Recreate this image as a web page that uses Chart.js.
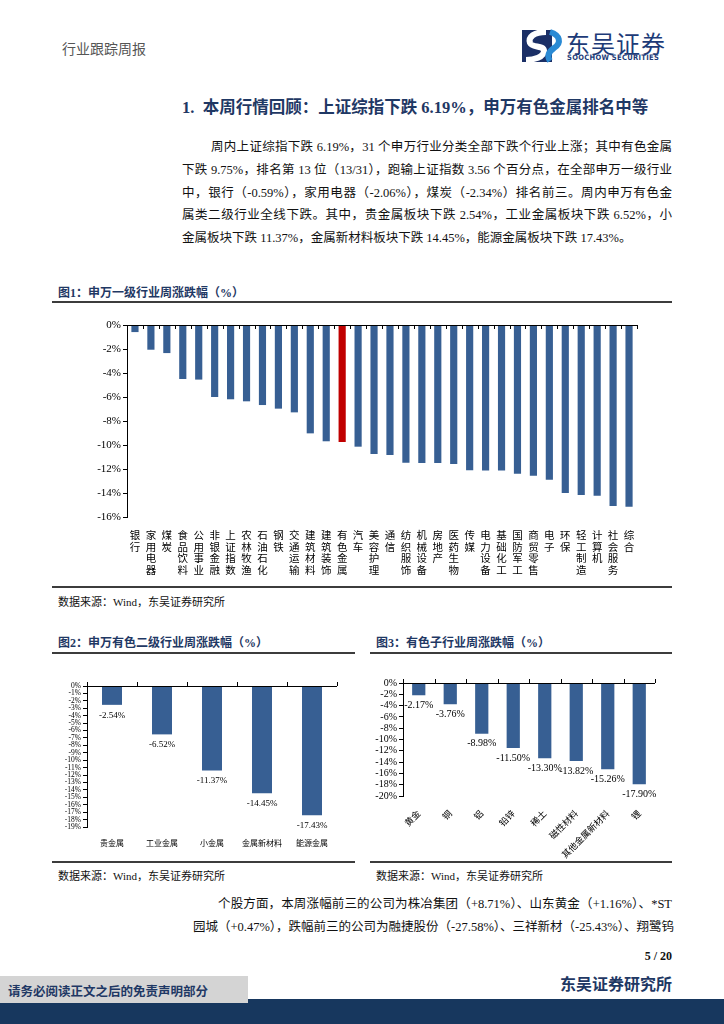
<!DOCTYPE html>
<html><head><meta charset="utf-8">
<script src="https://cdn.jsdelivr.net/npm/chart.js@4/dist/chart.umd.min.js"></script>
<style>
html,body{margin:0;padding:0;background:#fff;}
body{width:724px;height:1024px;position:relative;overflow:hidden;font-family:"Liberation Serif","Noto Sans CJK SC",serif;color:#111;}
.abs{position:absolute;}
.ln{position:absolute;white-space:nowrap;font-size:12.5px;text-align:justify;text-align-last:justify;}
.ttl{position:absolute;font-weight:bold;font-size:12px;color:#1f3864;white-space:nowrap;font-family:"Liberation Serif","Noto Sans CJK SC";}
.rule{position:absolute;height:2px;background:#3c3c3c;}
.src{position:absolute;font-size:11px;white-space:nowrap;color:#111;}
</style></head>
<body>
<div class="abs" style="left:62px;top:38px;font-size:14px;color:#555;font-family:'Noto Sans CJK SC';">行业跟踪周报</div>
<svg class="abs" style="left:520px;top:29px" width="44" height="34" viewBox="0 0 44 34">
  <rect x="2" y="1" width="30" height="32" fill="#1b2f66"/>
  <path d="M26 3 C14 3 8 8 10 14 C12 19 24 16 24 22 C24 28 14 31 6 31" stroke="#ffffff" stroke-width="6" fill="none"/>
  <path d="M30 3 C40 6 42 14 34 19 C30 22 26 26 30 32" stroke="#2a8ad4" stroke-width="6" fill="none"/>
</svg>
<div class="abs" style="left:566px;top:25px;font-size:24px;letter-spacing:1px;color:#1d3b78;font-family:'Noto Sans CJK SC';">东吴证券</div>
<div class="abs" style="left:567px;top:53px;font-size:7.5px;font-weight:bold;color:#1d3b78;font-family:'DejaVu Sans Condensed','DejaVu Sans';letter-spacing:0.3px;">SOOCHOW SECURITIES</div>

<div class="abs" style="left:182px;top:94px;font-size:16.5px;font-weight:bold;color:#1f3864;white-space:nowrap;font-family:'Liberation Serif','Noto Sans CJK SC';">1.&nbsp;&nbsp;本周行情回顾：上证综指下跌 6.19%，申万有色金属排名中等</div>

<div class="ln" style="left:211px;top:136px;width:461px;">周内上证综指下跌 6.19%，31 个申万行业分类全部下跌个行业上涨；其中有色金属</div>
<div class="ln" style="left:182px;top:159px;width:490px;">下跌 9.75%，排名第 13 位（13/31），跑输上证指数 3.56 个百分点，在全部申万一级行业</div>
<div class="ln" style="left:182px;top:182px;width:490px;">中，银行（-0.59%），家用电器（-2.06%），煤炭（-2.34%）排名前三。周内申万有色金</div>
<div class="ln" style="left:182px;top:204px;width:490px;">属类二级行业全线下跌。其中，贵金属板块下跌 2.54%，工业金属板块下跌 6.52%，小</div>
<div class="ln" style="left:182px;top:227px;text-align-last:left;">金属板块下跌 11.37%，金属新材料板块下跌 14.45%，能源金属板块下跌 17.43%。</div>

<div class="ttl" style="left:58px;top:283px;">图1：申万一级行业周涨跌幅（%）</div>
<div class="rule" style="left:52px;top:301px;width:620px;"></div>
<div class="abs" style="left:52px;top:310px;width:620px;height:274px;"><canvas id="c1"></canvas></div>
<div class="rule" style="left:52px;top:586px;width:620px;"></div>
<div class="src" style="left:58px;top:593px;">数据来源：Wind，东吴证券研究所</div>

<div class="ttl" style="left:58px;top:633px;">图2：申万有色二级行业周涨跌幅（%）</div>
<div class="rule" style="left:52px;top:652px;width:303px;"></div>
<div class="abs" style="left:52px;top:670px;width:303px;height:188px;"><canvas id="c2"></canvas></div>
<div class="rule" style="left:52px;top:861px;width:303px;"></div>
<div class="src" style="left:58px;top:867px;">数据来源：Wind，东吴证券研究所</div>

<div class="ttl" style="left:376px;top:633px;">图3：有色子行业周涨跌幅（%）</div>
<div class="rule" style="left:370px;top:652px;width:302px;"></div>
<div class="abs" style="left:370px;top:665px;width:302px;height:195px;"><canvas id="c3"></canvas></div>
<div class="rule" style="left:370px;top:861px;width:302px;"></div>
<div class="src" style="left:376px;top:867px;">数据来源：Wind，东吴证券研究所</div>

<div class="ln" style="left:218px;top:893px;width:454px;">个股方面，本周涨幅前三的公司为株冶集团（+8.71%）、山东黄金（+1.16%）、*ST</div>
<div class="ln" style="left:193px;top:916px;width:479px;">园城（+0.47%），跌幅前三的公司为融捷股份（-27.58%）、三祥新材（-25.43%）、翔鹭钨</div>

<div class="abs" style="right:52px;top:949px;font-size:12px;font-weight:bold;">5 / 20</div>
<div class="abs" style="right:52px;top:971px;font-size:16px;font-weight:bold;color:#1f3864;font-family:'Noto Sans CJK SC';">东吴证券研究所</div>
<div class="abs" style="left:0;top:999px;width:724px;height:25px;background:#17375e;"></div>
<div class="abs" style="left:0;top:976px;width:248px;height:27px;background:#d4d4d4;"></div>
<div class="abs" style="left:8px;top:981px;font-size:12.5px;font-weight:bold;color:#1f3864;font-family:'Noto Sans CJK SC';white-space:nowrap;">请务必阅读正文之后的免责声明部分</div>

<script>
// ---------- data ----------
const industries = ["银行","家用电器","煤炭","食品饮料","公用事业","非银金融","上证指数","农林牧渔","石油石化","钢铁","交通运输","建筑材料","建筑装饰","有色金属","汽车","美容护理","通信","纺织服饰","机械设备","房地产","医药生物","传媒","电力设备","基础化工","国防军工","商贸零售","电子","环保","轻工制造","计算机","社会服务","综合"];
const industryChange = [-0.59,-2.06,-2.34,-4.50,-4.55,-6.00,-6.19,-6.36,-6.67,-6.97,-7.28,-9.03,-9.69,-9.75,-10.14,-10.75,-10.83,-11.48,-11.49,-11.50,-11.58,-12.11,-12.12,-12.12,-12.39,-12.56,-12.89,-14.00,-14.17,-14.22,-15.08,-15.14];
const highlightIndustry = "有色金属";
const subSectors = ["贵金属","工业金属","小金属","金属新材料","能源金属"];
const subSectorChange = [-2.54,-6.52,-11.37,-14.45,-17.43];
const subIndustries = ["黄金","铜","铝","铅锌","稀土","磁性材料","其他金属新材料","锂"];
const subIndustryChange = [-2.17,-3.76,-8.98,-11.50,-13.30,-13.82,-15.26,-17.90];

const BLUE = '#375f93', RED = '#c00000';
const NUMFONT = "'Liberation Serif', 'Noto Sans CJK SC'";

const zeroAxis = {
  id:'zeroAxis',
  afterDatasetsDraw(chart, args, opts){
    const {ctx, scales:{x, y}} = chart;
    const y0 = y.getPixelForValue(0);
    const n = chart.data.labels.length;
    const half = (x.getPixelForValue(1) - x.getPixelForValue(0)) / 2;
    ctx.save();
    ctx.strokeStyle = '#000'; ctx.lineWidth = 1;
    ctx.beginPath();
    ctx.moveTo(x.getPixelForValue(0) - half, y0 + 0.5);
    ctx.lineTo(x.getPixelForValue(n - 1) + half, y0 + 0.5);
    for (let i = 0; i <= n; i++) {
      const xx = Math.round(x.getPixelForValue(i) - half) + 0.5;
      ctx.moveTo(xx, y0); ctx.lineTo(xx, y0 + (opts.dir || 1) * 4);
    }
    ctx.stroke();
    ctx.restore();
  }
};
const valueLabels = {
  id:'valueLabels',
  afterDatasetsDraw(chart, args, opts){
    if (!opts.show) return;
    const {ctx} = chart;
    const meta = chart.getDatasetMeta(0);
    const data = chart.data.datasets[0].data;
    ctx.save();
    ctx.font = opts.size + 'px ' + NUMFONT;
    ctx.fillStyle = '#000'; ctx.textAlign = 'center'; ctx.textBaseline = 'top';
    meta.data.forEach((el, i) => { ctx.fillText(data[i].toFixed(2) + '%', el.x, el.y + opts.offset); });
    ctx.restore();
  }
};

function makeChart(id, labels, values, cfg){
  return new Chart(document.getElementById(id), {
    type:'bar',
    data:{labels:labels, datasets:[{data:values,
      backgroundColor: labels.map(l => l === highlightIndustry && cfg.highlight ? RED : BLUE),
      barPercentage: cfg.barPct, categoryPercentage: 1}]},
    plugins:[zeroAxis, valueLabels],
    options:{
      responsive:true, maintainAspectRatio:false, animation:false,
      layout:{padding:cfg.padding},
      plugins:{legend:{display:false}, tooltip:{enabled:false},
        zeroAxis:{dir:cfg.tickDir}, valueLabels:{show:cfg.valueLabels, size:cfg.valSize, offset:cfg.valOffset}},
      scales:{
        x:{grid:{display:false}, border:{display:false},
          afterFit: s => { s.height = cfg.xHeight; },
          ticks:{autoSkip:false, color:'#000', padding:cfg.xPad, minRotation:cfg.rot, maxRotation:cfg.rot,
            font:{family:"'Noto Sans CJK SC'", size:cfg.xSize, lineHeight:cfg.xLH},
            callback:(v, i) => cfg.vertical ? labels[i].split('') : labels[i]}},
        y:{min:cfg.min, max:0, afterFit: s => { s.width = cfg.yWidth; },
          border:{display:true, color:'#000', width:1},
          grid:{drawOnChartArea:false, drawTicks:true, tickLength:4, tickColor:'#000'},
          ticks:{stepSize:cfg.step, autoSkip:false, color:'#000', padding:2, font:{family:NUMFONT, size:cfg.ySize},
            callback: v => v + '%'}}
      }
    }
  });
}

makeChart('c1', industries, industryChange, {highlight:true, barPct:0.45, padding:{left:35,right:35,top:15,bottom:0},
  tickDir:1, valueLabels:false, xHeight:67, xPad:4, rot:0, xSize:10.5, xLH:1.12, vertical:true,
  min:-16, step:2, yWidth:40, ySize:11});
makeChart('c2', subSectors, subSectorChange, {highlight:false, barPct:0.4, padding:{left:10,right:18,top:16,bottom:0},
  tickDir:-1, valueLabels:true, valSize:9, valOffset:6, xHeight:31, xPad:3, rot:0, xSize:8, xLH:1.2, vertical:false,
  min:-19, step:1, yWidth:25, ySize:7.5});
makeChart('c3', subIndustries, subIndustryChange, {highlight:false, barPct:0.42, padding:{left:5,right:17,top:18,bottom:0},
  tickDir:-1, valueLabels:true, valSize:10, valOffset:5, xHeight:64, xPad:4, rot:45, xSize:9, xLH:1.2, vertical:false,
  min:-20, step:2, yWidth:28, ySize:10});
</script>
</body></html>
